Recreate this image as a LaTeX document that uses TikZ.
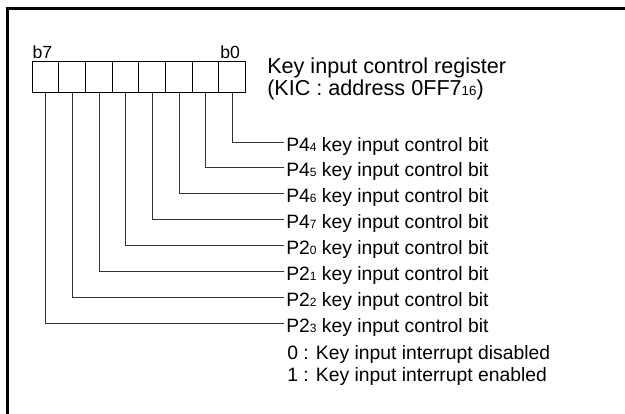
\documentclass[tikz,border=0pt]{standalone}
\usepackage{fontspec}
\setmainfont{Liberation Sans}
\usetikzlibrary{positioning}
\newcommand\lowdig[2][9pt]{{\fontsize{#1}{#1}\selectfont #2}}
\tikzset{
  regcell/.style={rectangle, draw=black, line width=0.75pt, minimum width=20pt,
                  minimum height=23.25pt, inner sep=0pt, outer sep=0pt},
  bitlbl/.style ={inner sep=0pt, font=\fontsize{13.2pt}{13.2pt}\selectfont},
  titlelbl/.style={inner sep=0pt, anchor=base west, font=\fontsize{16.2pt}{16.2pt}\selectfont},
  ctrllbl/.style={anchor=west, inner xsep=1.5pt, inner ysep=0pt, text height=13.5pt,
                  text depth=0pt, font=\fontsize{14.5pt}{14.5pt}\selectfont},
  notelbl/.style={inner sep=0pt, anchor=base west, font=\fontsize{14.5pt}{14.5pt}\selectfont},
  dropline/.style={line width=0.65pt, black!80},
  frameline/.style={line width=2.4pt, black},
}
\begin{document}
\begin{tikzpicture}[x=0.75pt, y=-0.75pt]
\useasboundingbox (0,0) rectangle (625,414);
\fill[white] (0,0) rectangle (625,414);
\coordinate (fbl) at (7.5,416); \coordinate (ftl) at (7.5,8.7); \coordinate (ftr) at (627,8.7);
\draw[frameline] (fbl) -- (ftl) -- (ftr);
% register cells b7 ... b0
\node[regcell, anchor=north west] (c7) at (32.3,61) {};
\foreach \i/\j in {6/7,5/6,4/5,3/4,2/3,1/2,0/1}
  \node[regcell, right=0pt of c\j] (c\i) {};
\node[bitlbl, anchor=base west] (b7) at ([yshift=2pt]c7.north west) {b7};
\node[bitlbl, anchor=base east] (b0) at ([xshift=-4pt, yshift=2pt]c0.north east) {b0};
\node[titlelbl] (kic1) at (267,73.3) {Key input control register};
\node[titlelbl] (kic2) at (267,95) {(KIC : address 0FF7\lowdig[10pt]{16})};
% control bits
\foreach \i/\port/\pin in {0/4/4,1/4/5,2/4/6,3/4/7,4/2/0,5/2/1,6/2/2,7/2/3}{
  \node[ctrllbl] (l\i) at (284, 142+25.9*\i) {P\port\lowdig{\pin} key input control bit};
  \draw[dropline] (c\i.south) |- (l\i.west);
}
\node[notelbl] (n0) at (287,359.3) {0 : Key input interrupt disabled};
\node[notelbl] (n1) at (287,381) {1 : Key input interrupt enabled};
\end{tikzpicture}
\end{document}
